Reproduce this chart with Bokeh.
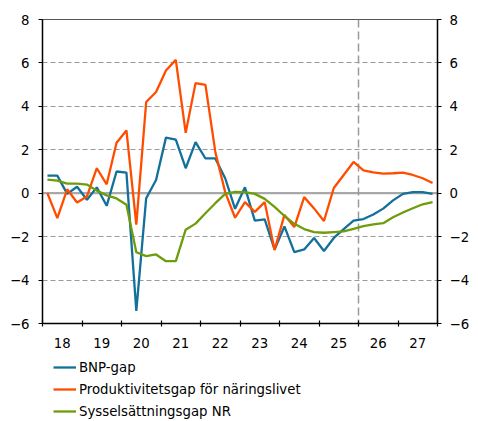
from bokeh.plotting import figure
from bokeh.layouts import column
from bokeh.models import FixedTicker, LinearAxis, Span, Legend, LegendItem, Range1d
from bokeh.embed import file_html
from bokeh.resources import INLINE

# ---- data ----
start_year = 2018
end_year = 2028
year_labels = ["18", "19", "20", "21", "22", "23", "24", "25", "26", "27"]
y_ticks = [-6, -4, -2, 0, 2, 4, 6, 8]
forecast_start = 2026

bnp_gap = [0.81, 0.81, -0.03, 0.30, -0.30, 0.27, -0.58, 1.00, 0.95, -5.42,
           -0.23, 0.61, 2.56, 2.47, 1.15, 2.35, 1.60, 1.60, 0.69, -0.72,
           0.27, -1.26, -1.20, -2.59, -1.53, -2.71, -2.59, -2.06, -2.66, -2.06,
           -1.65, -1.26, -1.19, -0.98, -0.71, -0.33, -0.03, 0.05, 0.05, -0.03]
prod_gap = [0.00, -1.15, 0.18, -0.43, -0.15, 1.15, 0.41, 2.32, 2.89, -1.45,
            4.20, 4.66, 5.65, 6.14, 2.78, 5.07, 4.99, 1.90, 0.05, -1.13,
            -0.41, -0.86, -0.41, -2.62, -1.00, -1.56, -0.18, -0.70, -1.28, 0.24,
            0.84, 1.44, 1.05, 0.96, 0.90, 0.92, 0.95, 0.84, 0.69, 0.47]
syss_gap = [0.63, 0.58, 0.44, 0.44, 0.40, 0.12, -0.10, -0.24, -0.53, -2.72,
            -2.90, -2.82, -3.13, -3.13, -1.68, -1.40, -0.92, -0.46, -0.03, 0.06,
            0.05, -0.03, -0.26, -0.63, -1.05, -1.41, -1.65, -1.79, -1.82, -1.79,
            -1.76, -1.64, -1.52, -1.44, -1.38, -1.11, -0.89, -0.69, -0.51, -0.41]

series_names = ["BNP-gap", "Produktivitetsgap för näringslivet", "Sysselsättningsgap NR"]
series_colors = ["#12709a", "#ff4d00", "#6e9c0a"]
series_values = [bnp_gap, prod_gap, syss_gap]

# quarter midpoints
x = [start_year + (i + 0.5) / 4 for i in range(len(bnp_gap))]

FONT = "DejaVu Sans"
FS = "13.3px"
LW = 2.3

p = figure(width=478, height=355,
           x_range=Range1d(start_year, end_year), y_range=Range1d(-6, 8),
           output_backend="svg", toolbar_location=None,
           min_border_left=42, min_border_right=41,
           min_border_top=19, min_border_bottom=32)
p.background_fill_color = "white"
p.border_fill_color = "white"
p.outline_line_color = "#555555"
p.outline_line_width = 1.2

# grid
p.xgrid.visible = False
p.ygrid.ticker = FixedTicker(ticks=y_ticks)
p.ygrid.grid_line_color = "#9a9a9a"
p.ygrid.grid_line_dash = "5 3"
p.ygrid.grid_line_width = 1.2

# zero line and forecast divider
p.add_layout(Span(location=0, dimension="width", line_color="#a8a8a8",
                  line_width=2.2, level="underlay"))
p.add_layout(Span(location=forecast_start, dimension="height", line_color="#999999",
                  line_width=1.5, line_dash="8 4", level="underlay"))

# x axis: labels centred on years, ticks on year boundaries
label_pos = [start_year + k + 0.5 for k in range(len(year_labels))]
xa = p.xaxis[0]
xa.ticker = FixedTicker(ticks=label_pos,
                        minor_ticks=list(range(start_year, end_year + 1)))
xa.major_label_overrides = {pos: lab for pos, lab in zip(label_pos, year_labels)}
xa.major_tick_in = 0
xa.major_tick_out = 0
xa.minor_tick_in = 3
xa.minor_tick_out = 3
xa.minor_tick_line_color = "black"
xa.minor_tick_line_width = 1.2
xa.axis_line_color = "black"
xa.axis_line_width = 1.4
xa.major_label_standoff = 11
xa.major_label_text_font = FONT
xa.major_label_text_font_size = FS
xa.major_label_text_color = "black"

# y axes
ya = p.yaxis[0]
yr = LinearAxis()
p.add_layout(yr, "right")
for ax, st in ((ya, 9), (yr, 8)):
    ax.ticker = FixedTicker(ticks=y_ticks)
    ax.major_tick_in = 0
    ax.major_tick_out = 4
    ax.major_tick_line_color = "black"
    ax.major_tick_line_width = 1.2
    ax.minor_tick_line_color = None
    ax.axis_line_color = "black"
    ax.axis_line_width = 1.4
    ax.major_label_standoff = st
    ax.major_label_text_font = FONT
    ax.major_label_text_font_size = FS
    ax.major_label_text_color = "black"

for vals, col in zip(series_values, series_colors):
    p.line(x, vals, line_color=col, line_width=LW)

# ---- legend strip below the chart ----
lg = figure(width=478, height=66, output_backend="svg", toolbar_location=None,
            x_axis_type=None, y_axis_type=None,
            min_border_left=0, min_border_right=0,
            min_border_top=0, min_border_bottom=0)
lg.outline_line_color = None
lg.border_fill_color = "white"
lg.background_fill_color = "white"
lg.xgrid.visible = False
lg.ygrid.visible = False

items = []
for name, vals, col in zip(series_names, series_values, series_colors):
    r = lg.line(x, vals, line_color=col, line_width=LW, visible=False)
    items.append(LegendItem(label=name, renderers=[r]))

legend = Legend(items=items, location=(11, 0), orientation="vertical",
                margin=0, padding=0, spacing=2,
                glyph_width=23, glyph_height=20, label_height=20,
                label_standoff=3,
                label_text_font=FONT, label_text_font_size=FS,
                label_text_color="black",
                inactive_fill_alpha=0,
                background_fill_alpha=0, border_line_alpha=0)
lg.add_layout(legend, "center")

open("out.html", "w").write(file_html(column(p, lg, spacing=0), INLINE))
